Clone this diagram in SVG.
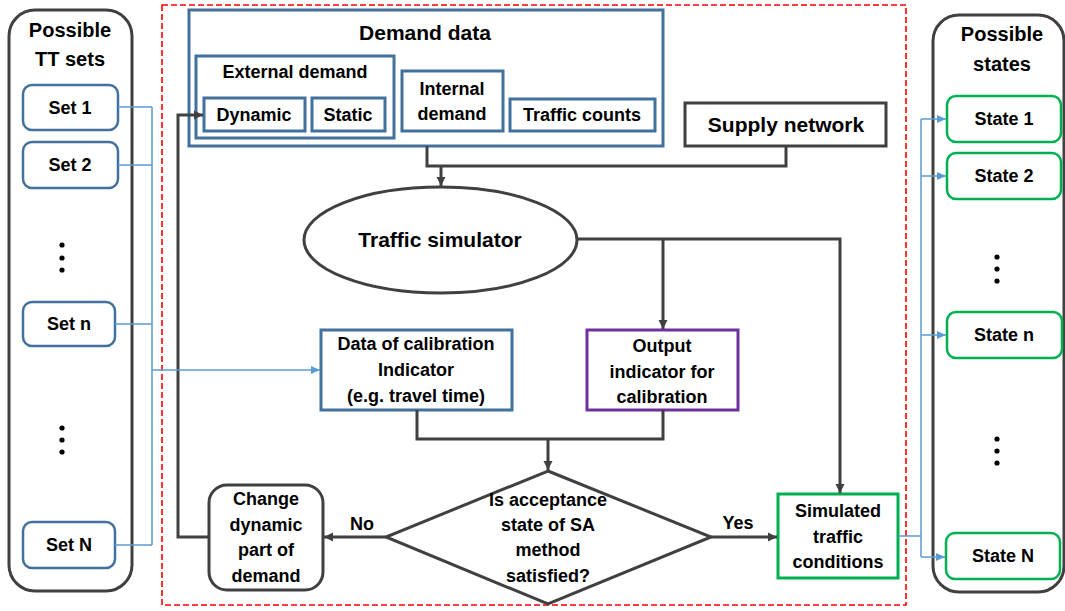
<svg xmlns="http://www.w3.org/2000/svg" width="1065" height="611" viewBox="0 0 1065 611">
<style>
text{font-family:"Liberation Sans",Arial,sans-serif;font-weight:bold;fill:#000;text-anchor:middle;font-size:18px}
.t20{font-size:20px}.t21{font-size:21px}
.cont{fill:#fff;stroke:#404040;stroke-width:3}
.blue{fill:#fff;stroke:#41719c;stroke-width:3}
.set{fill:#fff;stroke:#41719c;stroke-width:2.5}
.green{fill:#fff;stroke:#00b050;stroke-width:3}
.state{fill:#fff;stroke:#00b050;stroke-width:2.5}
.dark{fill:#fff;stroke:#404040;stroke-width:3}
.purple{fill:#fff;stroke:#7030a0;stroke-width:3}
.c{fill:none;stroke:#404040;stroke-width:3}
.cb{fill:none;stroke:#5b9bd5;stroke-width:1.5}
.dot{fill:#000}
</style>
<defs>
<marker id="ad" markerUnits="userSpaceOnUse" markerWidth="10" markerHeight="10" refX="9" refY="5" orient="auto"><path d="M0,0.5 L9,5 L0,9.5 z" fill="#404040"/></marker>
<marker id="ab" markerUnits="userSpaceOnUse" markerWidth="10" markerHeight="10" refX="9" refY="5" orient="auto"><path d="M0,1 L9,5 L0,9 z" fill="#5b9bd5"/></marker>
</defs>
<rect x="162" y="5" width="744" height="600" fill="none" stroke="#ff0000" stroke-width="1.6" stroke-dasharray="6,3"/>

<g id="tt-sets">
<rect class="cont" x="9" y="10" width="123" height="581" rx="26"/>
<text class="t20" x="70" y="37">Possible</text>
<text class="t20" x="70" y="66">TT sets</text>
<circle class="dot" cx="62" cy="245" r="2.6"/><circle class="dot" cx="62" cy="258" r="2.6"/><circle class="dot" cx="62" cy="270" r="2.6"/>
<circle class="dot" cx="62" cy="428" r="2.6"/><circle class="dot" cx="62" cy="440" r="2.6"/><circle class="dot" cx="62" cy="452" r="2.6"/>
</g>
<g id="set1"><rect class="set" x="23" y="85" width="95" height="45" rx="9"/><text x="70" y="114">Set 1</text></g>
<g id="set2"><rect class="set" x="23" y="142" width="95" height="46" rx="9"/><text x="70" y="171">Set 2</text></g>
<g id="setn"><rect class="set" x="23" y="302" width="92" height="44" rx="9"/><text x="69" y="330">Set n</text></g>
<g id="setN"><rect class="set" x="23" y="522" width="92" height="46" rx="9"/><text x="69" y="551">Set N</text></g>

<g id="states">
<rect class="cont" x="933" y="15" width="131" height="577" rx="26"/>
<text class="t20" x="1002" y="41">Possible</text>
<text class="t20" x="1002" y="71">states</text>
<circle class="dot" cx="997" cy="257" r="2.6"/><circle class="dot" cx="997" cy="269" r="2.6"/><circle class="dot" cx="997" cy="281" r="2.6"/>
<circle class="dot" cx="997" cy="439" r="2.6"/><circle class="dot" cx="997" cy="451" r="2.6"/><circle class="dot" cx="997" cy="463" r="2.6"/>
</g>
<g id="state1"><rect class="state" x="947" y="96" width="114" height="46" rx="9"/><text x="1004" y="125">State 1</text></g>
<g id="state2"><rect class="state" x="947" y="153" width="114" height="46" rx="9"/><text x="1004" y="182">State 2</text></g>
<g id="staten"><rect class="state" x="947" y="312" width="115" height="46" rx="9"/><text x="1004" y="341">State n</text></g>
<g id="stateN"><rect class="state" x="946" y="533" width="114" height="46" rx="9"/><text x="1003" y="562">State N</text></g>

<g id="demand-data">
<rect class="blue" x="189" y="10" width="474" height="136"/>
<text class="t21" x="425" y="40">Demand data</text>
</g>
<g id="external-demand">
<rect class="blue" x="196" y="56" width="198" height="82"/>
<text x="295" y="78">External demand</text>
</g>
<g id="dynamic"><rect class="blue" x="204" y="98" width="101" height="33"/><text x="254" y="121">Dynamic</text></g>
<g id="static"><rect class="blue" x="312" y="98" width="73" height="33"/><text x="348" y="121">Static</text></g>
<g id="internal-demand"><rect class="blue" x="402" y="71" width="101" height="60"/><text x="452" y="95">Internal</text><text x="452" y="120">demand</text></g>
<g id="traffic-counts"><rect class="blue" x="510" y="99" width="145" height="32"/><text x="582" y="121">Traffic counts</text></g>

<g id="supply-network"><rect class="dark" x="685" y="103" width="201" height="43"/><text class="t21" x="786" y="132">Supply network</text></g>

<g id="traffic-simulator"><ellipse class="dark" cx="440.5" cy="240" rx="136.5" ry="53"/><text class="t21" x="440" y="247">Traffic simulator</text></g>

<g id="data-calibration"><rect class="blue" x="321" y="330" width="191" height="80"/>
<text x="416" y="350">Data of calibration</text><text x="416" y="376">Indicator</text><text x="416" y="402">(e.g. travel time)</text></g>

<g id="output-indicator"><rect class="purple" x="587" y="330" width="151" height="80"/>
<text x="662" y="352">Output</text><text x="662" y="378">indicator for</text><text x="662" y="403">calibration</text></g>

<g id="decision"><polygon class="dark" points="548,471 711,537 548,604 386,537"/>
<text x="548" y="506">Is acceptance</text><text x="548" y="531">state of SA</text><text x="548" y="556">method</text><text x="548" y="582">satisfied?</text></g>

<g id="change-demand"><rect class="dark" x="209" y="485" width="114" height="105" rx="18"/>
<text x="266" y="505">Change</text><text x="266" y="531">dynamic</text><text x="266" y="556">part of</text><text x="266" y="582">demand</text></g>

<g id="simulated-conditions"><rect class="green" x="778" y="494" width="120" height="84"/>
<text x="838" y="517">Simulated</text><text x="838" y="543">traffic</text><text x="838" y="568">conditions</text></g>

<g id="connectors">
<path class="c" d="M427,146 V166 H786 V146"/>
<path class="c" d="M441,166 V186" marker-end="url(#ad)"/>
<path class="c" d="M577,239 H840 V493" marker-end="url(#ad)"/>
<path class="c" d="M663,239 V329" marker-end="url(#ad)"/>
<path class="c" d="M417,410 V439 H663 V410"/>
<path class="c" d="M548,439 V470" marker-end="url(#ad)"/>
<path class="c" d="M386,537 H324" marker-end="url(#ad)"/>
<path class="c" d="M209,537 H178 V115 H203" marker-end="url(#ad)"/>
<path class="c" d="M711,537 H777" marker-end="url(#ad)"/>
<text x="362" y="530">No</text>
<text x="738" y="529">Yes</text>
<path class="cb" d="M118,107 H152 M118,165 H152 M115,324 H152 M115,545 H152 M152,107 V545"/>
<path class="cb" d="M152,370 H320" marker-end="url(#ab)"/>
<path class="cb" d="M898,536 H921 M921,119 V557"/>
<path class="cb" d="M921,119 H946" marker-end="url(#ab)"/>
<path class="cb" d="M921,176 H946" marker-end="url(#ab)"/>
<path class="cb" d="M921,335 H946" marker-end="url(#ab)"/>
<path class="cb" d="M921,557 H945" marker-end="url(#ab)"/>
</g>
</svg>
